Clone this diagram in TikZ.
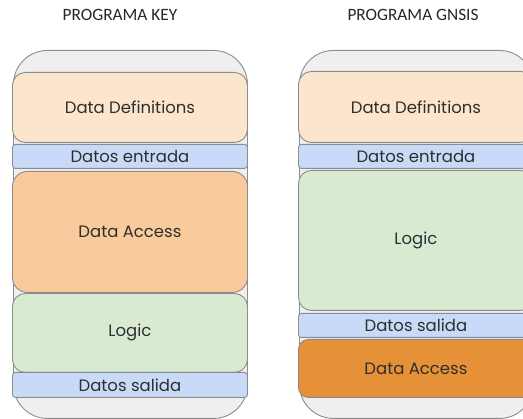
\documentclass[tikz,border=0pt]{standalone}
\usepackage{fontspec}
\setmainfont{Poppins}
\newfontfamily\titlefont{Carlito}
\definecolor{edge}{HTML}{8C8C8C}
\definecolor{outerfill}{HTML}{EFEFEF}
\definecolor{defs}{HTML}{FCE5CD}
\definecolor{bluebar}{HTML}{C9DAF8}
\definecolor{accesslight}{HTML}{F9CB9C}
\definecolor{accessdark}{HTML}{E69138}
\definecolor{logicfill}{HTML}{D9EAD3}
\definecolor{textcol}{HTML}{2E2E2E}
\tikzset{
  box/.style={draw=edge, line width=0.9pt, anchor=north west, inner sep=0pt,
    minimum width=235pt, text=textcol, font=\fontsize{16.5}{18}\selectfont},
  bigbox/.style={box, rounded corners=13pt},
  bar/.style={box, rounded corners=3pt, fill=bluebar},
  outer/.style={draw=edge, line width=0.9pt, fill=outerfill, anchor=north west,
    inner sep=0pt, minimum width=234pt, minimum height=368pt, rounded corners=34pt},
  title/.style={font=\titlefont\fontsize{17.3}{19}\selectfont, text=black!85}
}
\begin{document}
\begin{tikzpicture}[x=1pt,y=-1pt]
\useasboundingbox (0,0) rectangle (523,419);
\clip (0,0) rectangle (523,419);
% titles
\node[title] (t1) at (120,15) {PROGRAMA KEY};
\node[title] (t2) at (413,15) {PROGRAMA GNSIS};
% left column
\node[outer] (o1) at (13,50) {};
\node[bigbox, fill=defs, minimum height=70pt] (dd1) at (12,72) {Data Definitions};
\node[bar, minimum height=24pt] (de1) at (12,144) {Datos entrada};
\node[bigbox, fill=accesslight, minimum height=121pt, rounded corners=15pt] (da1) at (12,171) {Data Access};
\node[bigbox, fill=logicfill, minimum height=79pt] (lg1) at (12,293) {Logic};
\node[bar, minimum height=25pt] (ds1) at (12,372) {Datos salida};
% right column
\node[outer] (o2) at (299,50) {};
\node[bigbox, fill=defs, minimum height=71pt] (dd2) at (298,71) {Data Definitions};
\node[bar, minimum height=24pt] (de2) at (298,144) {Datos entrada};
\node[bigbox, fill=logicfill, minimum height=140pt] (lg2) at (298,170) {Logic};
\node[bar, minimum height=24pt] (ds2) at (298,313) {Datos salida};
\node[bigbox, fill=accessdark, minimum height=58pt, rounded corners=10pt] (da2) at (298,339) {Data Access};
\end{tikzpicture}
\end{document}
